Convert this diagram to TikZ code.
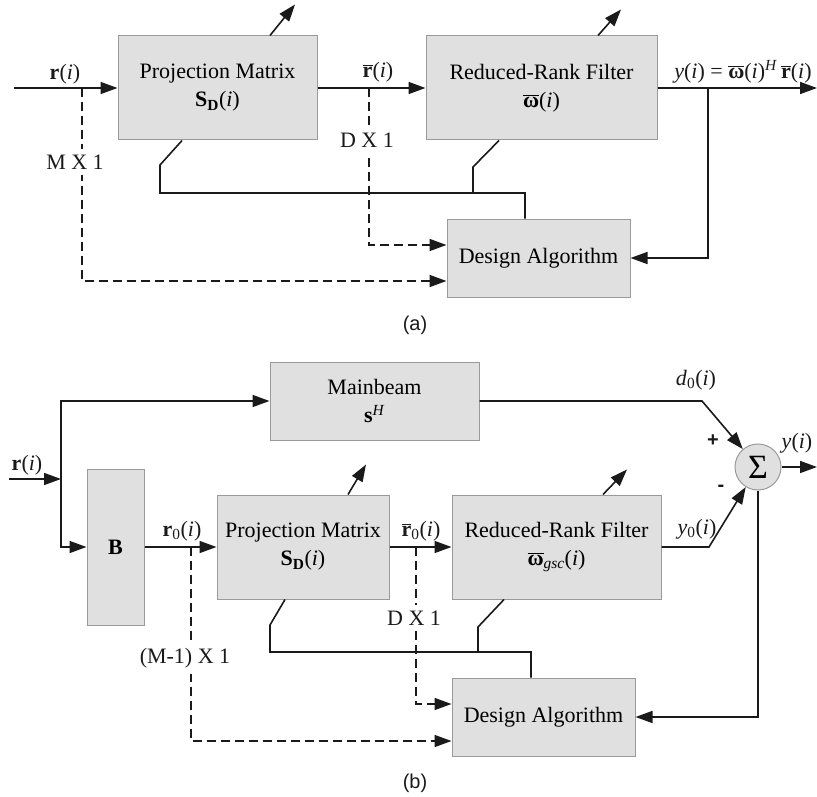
\documentclass[tikz,border=0pt]{standalone}
\usepackage{fontspec}
\setmainfont{Liberation Serif}
\newfontfamily\capfont{Liberation Sans}
\usetikzlibrary{arrows.meta,calc}
\definecolor{boxfill}{HTML}{E0E0E0}
\definecolor{boxline}{HTML}{9A9A9A}
\definecolor{ink}{HTML}{1A1A1A}
\newcommand{\ovl}[1]{$\overline{\mbox{#1}}$}
\newcommand{\ii}{\textit{i}}
\begin{document}
\begin{tikzpicture}[x=1pt,y=-1pt,
  blk/.style={draw=boxline,fill=boxfill,line width=1pt,inner sep=0pt,align=center,font=\fontsize{22}{28}\selectfont},
  wire/.style={draw=ink,line width=1.6pt},
  arr/.style={wire,-{Triangle[length=17pt,width=12pt]}},
  dsh/.style={wire,dash pattern=on 9pt off 5pt},
  darr/.style={dsh,-{Triangle[length=17pt,width=12pt]}},
  lbl/.style={font=\fontsize{22}{26}\selectfont,inner sep=1pt,text=ink},
  wlbl/.style={lbl,fill=white,inner xsep=2pt,inner ysep=6pt},
  sgn/.style={font=\capfont\bfseries\fontsize{20}{22}\selectfont,inner sep=0pt,text=ink},
  captxt/.style={font=\capfont\fontsize{20}{22}\selectfont,text=ink}]
\useasboundingbox (0,0) rectangle (817,797);

% ---------------- (a) ----------------
\node[blk,minimum width=199pt,minimum height=104pt] (pm1) at (217.5,88) {Projection Matrix\\\textbf{S}\textsubscript{\textbf{D}}(\ii)};
\node[blk,minimum width=231pt,minimum height=104pt] (rr1) at (541.5,88) {Reduced-Rank Filter\\\ovl{\textbf{ω}}(\ii)};
\node[blk,minimum width=183pt,minimum height=78pt] (da1) at (538.5,258) {Design Algorithm};

\coordinate (in1) at (14,88);
\coordinate (out1) at (817,88);
\coordinate (ma) at (82,88);
\coordinate (da) at (369,88);
\coordinate (ya) at (708,88);
\draw[arr] (in1) -- (pm1.west);
\draw[arr] (pm1.east) -- (rr1.west);
\draw[arr] (rr1.east) -- (out1);
\draw[arr] (ya) |- (da1.east);
\draw[darr] (ma) |- ([yshift=-23pt]da1.west);
\draw[darr] (da) |- ([yshift=13pt]da1.west);

\coordinate (fa1) at (160,165);
\coordinate (fa2) at (160,193);
\coordinate (fa3) at (525,193);
\draw[wire] ([xshift=-35.5pt]pm1.south) -- (fa1) -- (fa2) -- (fa3) -- (fa3 |- da1.north);
\coordinate (fb1) at (473,167);
\coordinate (fb2) at (473,193);
\draw[wire] ([xshift=-42.5pt]rr1.south) -- (fb1) -- (fb2);

\draw[arr] ([xshift=52.5pt]pm1.north) -- ++(25,-31);
\draw[arr] ([xshift=56.5pt]rr1.north) -- ++(23,-26);

\node[lbl] (la1) at (65,74) {\textbf{r}(\ii)};
\node[lbl] (la2) at (378,72) {\ovl{\textbf{r}}(\ii)};
\node[lbl] (la3) at (743,72) {\textit{y}(\ii) = \ovl{\textbf{ω}}(\ii)\textsuperscript{\textit{H}}\,\ovl{\textbf{r}}(\ii)};
\node[wlbl] (la4) at (75,162) {M X 1};
\node[wlbl] (la5) at (367,140) {D X 1};
\node[captxt] (capa) at (415,325) {(a)};

% ---------------- (b) ----------------
\node[blk,minimum width=209pt,minimum height=78pt] (mb) at (374.5,401) {Mainbeam\\\textbf{s}\textsuperscript{\textit{H}}};
\node[blk,minimum width=57pt,minimum height=156pt] (B) at (115.5,547) {\textbf{B}};
\node[blk,minimum width=172pt,minimum height=104pt] (pm2) at (303,547) {Projection Matrix\\\textbf{S}\textsubscript{\textbf{D}}(\ii)};
\node[blk,minimum width=209pt,minimum height=104pt] (rr2) at (556.5,547) {Reduced-Rank Filter\\\ovl{\textbf{ω}}\textsubscript{\textit{gsc}}(\ii)};
\node[blk,minimum width=183pt,minimum height=78pt] (da2) at (543.5,717) {Design Algorithm};
\node[circle,draw=boxline,fill=boxfill,line width=1pt,minimum size=46pt,inner sep=0pt,font=\fontsize{34}{34}\selectfont] (sum) at (758,467) {Σ};

\coordinate (in2) at (9,479);
\coordinate (j) at (61,479);
\draw[arr] (in2) -- (j);
\draw[arr] (j) |- (mb.west);
\draw[arr] (j) |- (B.west);
\draw[arr] (B.east) -- (pm2.west);
\draw[arr] (pm2.east) -- (rr2.west);
\coordinate (dk) at (702,401);
\draw[arr] (mb.east) -- (dk) -- (sum);
\coordinate (yk) at (709,547);
\draw[arr] (rr2.east) -- (yk) -- (sum);
\coordinate (out2) at (817,467);
\draw[arr] (sum.east) -- (out2);
\draw[arr] (sum.south) |- (da2.east);
\coordinate (mb2) at (191,547);
\draw[darr] (mb2) |- ([yshift=-24pt]da2.west);
\coordinate (db2) at (416,547);
\draw[darr] (db2) |- ([yshift=13pt]da2.west);

\coordinate (fc1) at (270,625);
\coordinate (fc2) at (270,652);
\coordinate (fc3) at (531,652);
\draw[wire] ([xshift=-18pt]pm2.south) -- (fc1) -- (fc2) -- (fc3) -- (fc3 |- da2.north);
\coordinate (fd1) at (478,627);
\coordinate (fd2) at (478,652);
\draw[wire] ([xshift=-52.5pt]rr2.south) -- (fd1) -- (fd2);

\draw[arr] ([xshift=45pt]pm2.north) -- ++(18,-30);
\draw[arr] ([xshift=46.5pt]rr2.north) -- ++(24,-25);

\node[lbl] (lb1) at (27,465) {\textbf{r}(\ii)};
\node[lbl] (lb2) at (182,531) {\textbf{r}\textsubscript{0}(\ii)};
\node[lbl] (lb3) at (421,531) {\ovl{\textbf{r}}\textsubscript{0}(\ii)};
\node[wlbl] (lb4) at (185,658) {(M-1) X 1};
\node[wlbl] (lb5) at (414,618) {D X 1};
\node[lbl] (lb6) at (696,380) {\textit{d}\textsubscript{0}(\ii)};
\node[sgn] (lb7) at (713,441) {+};
\node[sgn] (lb8) at (721,488) {-};
\node[lbl] (lb9) at (797,443) {\textit{y}(\ii)};
\node[lbl] (lb10) at (697,529) {\textit{y}\textsubscript{0}(\ii)};
\node[captxt] (capb) at (415,783) {(b)};
\end{tikzpicture}
\end{document}
